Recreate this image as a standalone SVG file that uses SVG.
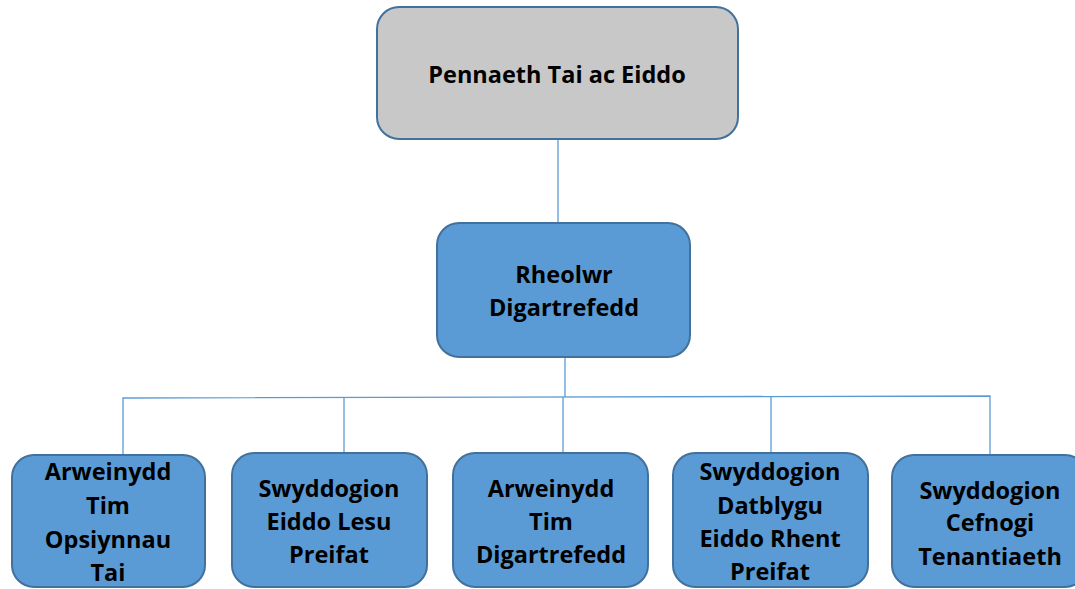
<svg xmlns="http://www.w3.org/2000/svg" width="1075" height="589" viewBox="0 0 1075 589">
<style>
.box{fill:#5B9BD5;stroke:#41719C;stroke-width:2}
.top{fill:#C8C8C8;stroke:#41719C;stroke-width:2}
text{font-family:"Open Sans","Liberation Sans",sans-serif;font-weight:bold;font-size:23.5px;fill:#000;text-anchor:middle;dominant-baseline:central}
.c{fill:none;stroke:#5B9BD5;stroke-width:1.3}
</style>
<rect width="1075" height="589" fill="#fff"/>
<g id="connectors">
<line class="c" x1="558" y1="139" x2="558" y2="224"/>
<polyline class="c" points="565,357 565,397"/>
<polyline class="c" points="123,455 123,398 990,396 990,455"/>
<line class="c" x1="344" y1="397" x2="344" y2="453"/>
<line class="c" x1="563" y1="397" x2="563" y2="453"/>
<line class="c" x1="771" y1="396" x2="771" y2="453"/>
</g>
<g id="n0"><rect class="top" x="377" y="7" width="361" height="132" rx="22"/><text x="557" y="74">Pennaeth Tai ac Eiddo</text></g>
<g id="n1"><rect class="box" x="437" y="223" width="253" height="134" rx="22"/><text x="564" y="274">Rheolwr</text><text x="564" y="307">Digartrefedd</text></g>
<g id="n2"><rect class="box" x="12" y="455" width="193" height="132" rx="22"/><text x="108" y="471">Arweinydd</text><text x="108" y="505">Tim</text><text x="108" y="539">Opsiynnau</text><text x="108" y="572">Tai</text></g>
<g id="n3"><rect class="box" x="232" y="453" width="195" height="134" rx="22"/><text x="329" y="488">Swyddogion</text><text x="329" y="521">Eiddo Lesu</text><text x="329" y="554">Preifat</text></g>
<g id="n4"><rect class="box" x="453" y="453" width="195" height="134" rx="22"/><text x="551" y="488">Arweinydd</text><text x="551" y="521">Tim</text><text x="551" y="554">Digartrefedd</text></g>
<g id="n5"><rect class="box" x="673" y="453" width="195" height="134" rx="22"/><text x="770" y="471">Swyddogion</text><text x="770" y="505">Datblygu</text><text x="770" y="538">Eiddo Rhent</text><text x="770" y="571">Preifat</text></g>
<g id="n6"><rect class="box" x="892" y="455" width="195" height="132" rx="22"/><text x="990" y="490">Swyddogion</text><text x="990" y="522">Cefnogi</text><text x="990" y="556">Tenantiaeth</text></g>
</svg>
